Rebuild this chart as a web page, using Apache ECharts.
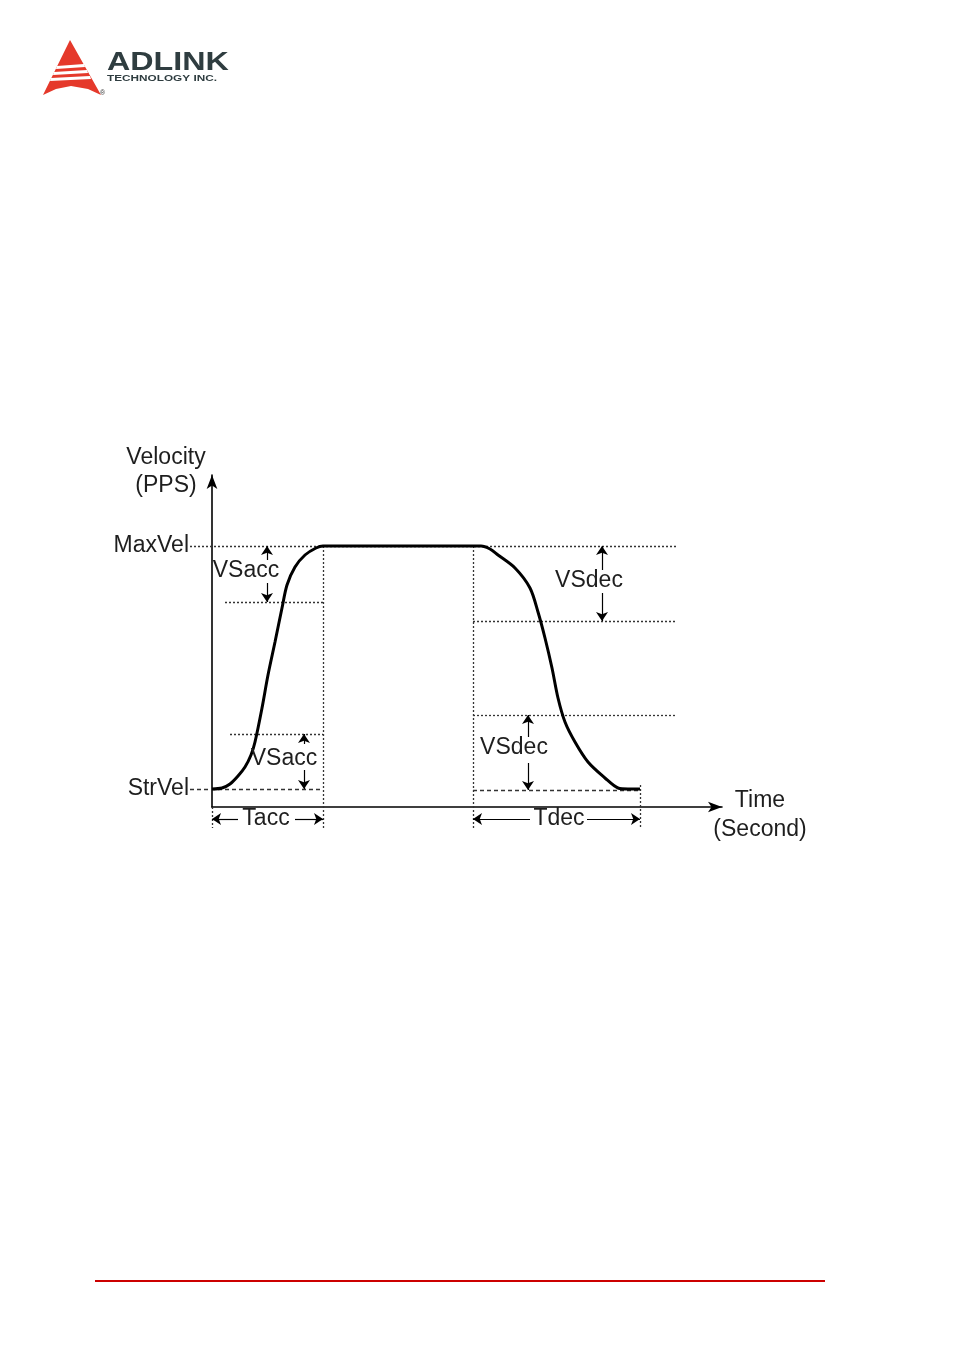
<!DOCTYPE html>
<html>
<head>
<meta charset="utf-8">
<script src="https://cdn.jsdelivr.net/npm/echarts@6/dist/echarts.min.js"></script>
<style>
html,body{margin:0;padding:0;background:#fff;}
#chart{width:954px;height:1351px;}
</style>
</head>
<body>
<div id="chart"></div>
<script>
// ---- data (time units / velocity units) ----
var strVel = 18;
var maxVel = 261;
var axisLabels = ['StrVel', 'MaxVel'];
var accCurve = [[0,18],[10,19],[18,23],[26,31],[33,40],[39,52],[43,65],[50,99],[56,132],[63,165],[70,199],[75,222],[83,240],[93,252],[104,259],[111,261]];
var decCurve = [[261,261],[269,261],[278,258],[286,252],[303,239],[318,219],[326,195],[333,169],[340,139],[346,109],[353,85],[363,65],[376,45],[393,29],[406,19],[416,18],[428,18]];
// horizontal dotted reference levels: [y, x1, x2]
var dottedH = [[261,-22,465],[205,13,111],[73,18,111],[186,261,465],[92,261,465]];
// horizontal dashed levels: [y, x1, x2]
var dashedH = [[18,-22,111],[17,261,428]];
// vertical dotted lines: [x, y1, y2]
var dottedV = [[111,261,-21],[261,261,-21],[428,22,-21],[0,0,-21]];
// arrow segments: [x1,y1,x2,y2] (head at second point)
var arrows = [[55,247,55,261],[55,224,55,205],[92,63,92,73],[92,37,92,18],
              [390,237,390,261],[390,214,390,186],[316,70,316,92],[316,44,316,17],
              [26,-12,0,-12],[83,-12,111,-12],[318,-12,261,-12],[375,-12,428,-12]];
// annotation texts: [x, y, text]
var notes = [[34,236,'VSacc'],[72,48,'VSacc'],[377,226,'VSdec'],[302,59,'VSdec'],[54,-12,'Tacc'],[347,-12,'Tdec']];

var profile = accCurve.concat(decCurve);

var FONT = 'Liberation Sans, Arial, sans-serif';
var TXT = '#1e1e1e';
var FS = 23;

function hSeg(a){ return {coords:[[a[1],a[0]],[a[2],a[0]]]}; }
function vSeg(a){ return {coords:[[a[0],a[1]],[a[0],a[2]]]}; }

var chart = echarts.init(document.getElementById('chart'), null, {renderer:'canvas'});
chart.setOption({
  animation:false,
  backgroundColor:'#fff',
  grid:{left:212, top:475, width:510, height:332},
  xAxis:{
    type:'value', min:0, max:510,
    splitLine:{show:false}, axisTick:{show:false}, axisLabel:{show:false},
    axisLine:{show:true, symbol:['none','arrow'], symbolSize:[8,14], lineStyle:{color:'#000', width:1.6}},
    name:'{e| }\n{a|Time}\n{a|(Second)}', nameLocation:'end', nameGap:38,
    nameTextStyle:{fontFamily:FONT, fontSize:FS, color:TXT, align:'center', verticalAlign:'middle',
      rich:{
        e:{lineHeight:16, fontSize:4, color:'rgba(0,0,0,0)'},
        a:{lineHeight:29, fontSize:FS, fontFamily:FONT, color:TXT, align:'center'}
      }}
  },
  yAxis:{
    type:'value', min:0, max:332,
    splitLine:{show:false}, axisTick:{show:false},
    axisLine:{show:true, symbol:['none','arrow'], symbolSize:[8,14], lineStyle:{color:'#000', width:1.6}},
    axisLabel:{show:true, customValues:[strVel, maxVel], margin:23, fontFamily:FONT, fontSize:FS, color:TXT,
      formatter:function(v){ return v === strVel ? axisLabels[0] : axisLabels[1]; }},
    name:'Velocity\n(PPS)', nameLocation:'end', nameGap:-25,
    nameTextStyle:{fontFamily:FONT, fontSize:FS, color:TXT, align:'center', lineHeight:28, padding:[0,92,0,0]}
  },
  series:[
    {
      type:'line', data:profile, smooth:0.3, showSymbol:false, clip:false, z:5,
      lineStyle:{color:'#000', width:3}
    },
    {
      type:'lines', coordinateSystem:'cartesian2d', clip:false, silent:true, z:3,
      symbol:'none',
      lineStyle:{color:'#333', width:1.3, type:[2,2], opacity:1},
      data: dottedH.map(hSeg).concat(dottedV.map(vSeg))
    },
    {
      type:'lines', coordinateSystem:'cartesian2d', clip:false, silent:true, z:3,
      symbol:'none',
      lineStyle:{color:'#333', width:1.3, type:[4,3], opacity:1},
      data: dashedH.map(hSeg)
    },
    {
      type:'lines', coordinateSystem:'cartesian2d', clip:false, silent:true, z:4,
      symbol:['none','arrow'], symbolSize:9,
      lineStyle:{color:'#000', width:1.2, type:'solid', opacity:1},
      data: arrows.map(function(a){ return {coords:[[a[0],a[1]],[a[2],a[3]]]}; })
    },
    {
      type:'scatter', data:notes, symbolSize:0, clip:false, silent:true, z:6,
      itemStyle:{opacity:1},
      label:{show:true, position:'inside', fontFamily:FONT, fontSize:FS, color:TXT, opacity:1,
        formatter:function(p){ return p.data[2]; }}
    }
  ],
  graphic:[
    {type:'polygon', shape:{points:[[70,40],[101,95],[88,89],[71,86],[56,89],[43,95]]}, style:{fill:'#e5392b'}},
    {type:'polygon', shape:{points:[[57,66],[84,64],[85,67],[56,69]]}, style:{fill:'#fff'}},
    {type:'polygon', shape:{points:[[54,72],[87,70],[88,73],[53,75]]}, style:{fill:'#fff'}},
    {type:'polygon', shape:{points:[[51,78],[90,76],[91,79],[50,81]]}, style:{fill:'#fff'}},
    {type:'text', x:100, y:90, style:{text:'®', fontSize:7, fill:'#333', fontFamily:FONT}},
    {type:'text', x:107, y:51, scaleX:1.29, style:{text:'ADLINK', fontSize:25, fontWeight:'bold', fill:'#2f3d40', fontFamily:FONT}},
    {type:'text', x:107, y:73, scaleX:1.24, style:{text:'TECHNOLOGY INC.', fontSize:9.5, fontWeight:'bold', fill:'#2f3d40', fontFamily:FONT}},
    {type:'line', shape:{x1:95, y1:1281, x2:825, y2:1281}, style:{stroke:'#cc0000', lineWidth:2}}
  ]
});
</script>
</body>
</html>
